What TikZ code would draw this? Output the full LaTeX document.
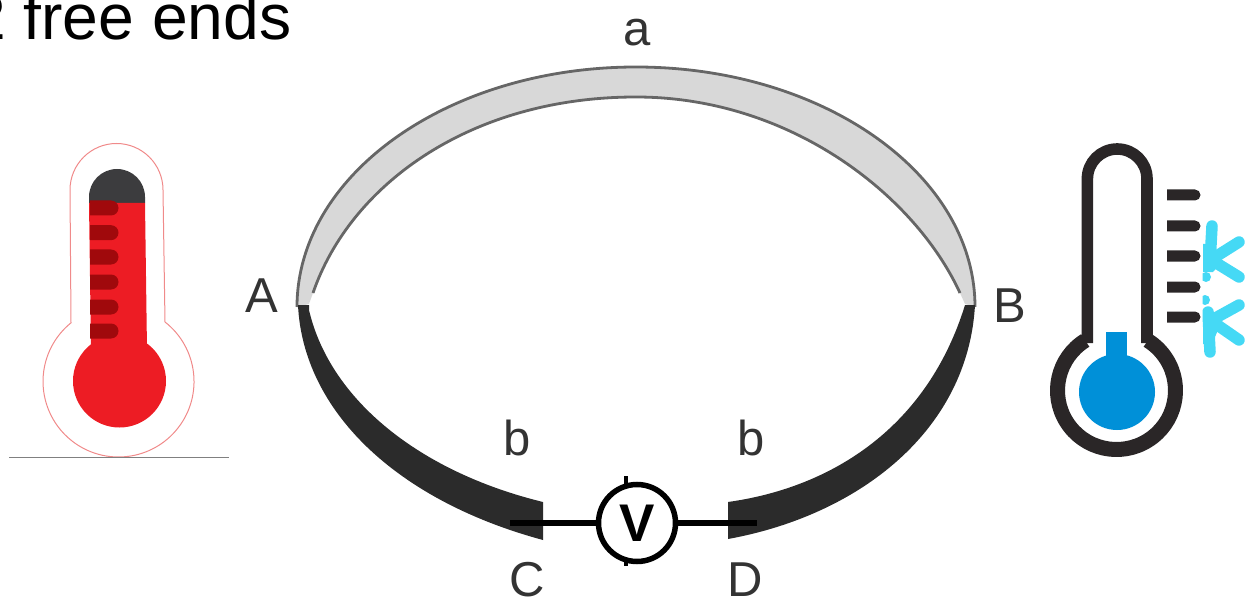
\documentclass[tikz,border=0pt]{standalone}
\usepackage{fontspec}
\setmainfont{Liberation Sans}
\definecolor{archdark}{HTML}{2B2B2B}
\definecolor{archgrey}{HTML}{D8D8D8}
\definecolor{archedge}{HTML}{666666}
\definecolor{labelgrey}{HTML}{333333}
\definecolor{thermred}{HTML}{ED1C24}
\definecolor{thermtick}{HTML}{A0090C}
\definecolor{thermcap}{HTML}{3C3C3E}
\definecolor{thermline}{HTML}{F08A8A}
\definecolor{coldblack}{HTML}{2A2627}
\definecolor{coldblue}{HTML}{0090D8}
\definecolor{flake}{HTML}{45D9F5}
\tikzset{
  lbl/.style={text=labelgrey,font=\fontsize{49}{49}\selectfont,inner sep=0pt,anchor=base},
  wire/.style={draw=black,line width=5.5pt},
  flakearm/.style={draw=flake,line width=11.5pt,line cap=round},
  archline/.style={draw=archedge,line width=2.8pt},
}
\begin{document}
\begin{tikzpicture}[x=1pt,y=1pt,yscale=-1]
\useasboundingbox (0,0) rectangle (1245,604);
\clip (0,0) rectangle (1245,604);
% heading
\node[anchor=base west,inner sep=0pt,font=\fontsize{64.2}{64.2}\selectfont,text=black] (title) at (-30,40) {2 free ends};
% upper arc a
\fill[archgrey] (297,307) arc[start angle=180,end angle=360,x radius=339pt,y radius=240pt]
  -- (965,304) -- (960,293) .. controls (915,195) and (790,97) .. (636,97)
  .. controls (470,97) and (350,185) .. (313,293) -- (309,304) -- cycle;
\draw[archline] (297,307) arc[start angle=180,end angle=360,x radius=339pt,y radius=240pt];
\draw[archline] (960,293) .. controls (915,195) and (790,97) .. (636,97)
  .. controls (470,97) and (350,185) .. (313,293);
% lower arcs b
\fill[archdark] (298,305) .. controls (303,410) and (395,500) .. (543,540)
  -- (543,502) .. controls (420,472) and (330,400) .. (309,310) -- (309,305) -- cycle;
\fill[archdark] (728,539) .. controls (860,515) and (968,430) .. (975,305)
  -- (965,305) .. controls (928,425) and (835,487) .. (728,502) -- cycle;
% labels
\node[lbl] (la) at (637,46) {a};
\node[lbl] (lA) at (262,312) {A};
\node[lbl] (lB) at (1010,322) {B};
\node[lbl] (lb1) at (517,455) {b};
\node[lbl] (lb2) at (751,455) {b};
\node[lbl] (lC) at (527,596) {C};
\node[lbl] (lD) at (745,596) {D};
% voltmeter
\coordinate (wl) at (510,523);
\coordinate (wr) at (757,523);
\coordinate (tt) at (626,476);
\coordinate (tb) at (626,566);
\draw[wire,line width=4.5pt] (tt) -- (tb);
\node[circle,draw=black,fill=white,line width=5.5pt,minimum size=77pt,inner sep=0pt,font=\fontsize{53}{53}\selectfont\bfseries] (volt) at (637,523) {V};
\draw[wire] (wl) -- (volt);
\draw[wire] (volt) -- (wr);
% hot thermometer
\draw[thermline,line width=1pt] (70,190) arc[start angle=180,end angle=360,radius=46.5pt]
  -- (165,322) arc[start angle=-52,end angle=231,radius=75.5pt] -- cycle;
\draw[gray,line width=1pt] (9,457) -- (229,457);
\fill[thermcap] (89,203) -- (89,197) arc[start angle=180,end angle=360,radius=28pt] -- (145,203) -- cycle;
\fill[thermred] (89,203) -- (145,203) -- (147,350) -- (91,350) -- cycle;
\fill[thermred] (119.5,381) circle[radius=46.5pt];
\foreach \yy in {208,232.7,257,282,307,331}{
  \fill[thermtick] (90,\yy-7.5) -- (111,\yy-7.5) arc[start angle=-90,end angle=90,radius=7.5pt] -- (90,\yy+7.5) -- cycle;
}
% cold thermometer
\draw[coldblack,line width=11.6pt] (1087.4,343) -- (1087.4,178.8) arc[start angle=180,end angle=360,radius=29.8pt] -- (1147,343);
\draw[coldblack,line width=15pt] (1116.5,390.5) ++(238:59pt) arc[start angle=238,end angle=-58,radius=59pt];
\fill[coldblue] (1117,392) circle[radius=38pt];
\fill[coldblue] (1106,332) rectangle (1127,370);
\foreach \yy in {195,226,256,287,317}{
  \fill[coldblack] (1167,\yy-5.5) -- (1195,\yy-5.5) arc[start angle=-90,end angle=90,radius=5.5pt] -- (1167,\yy+5.5) -- cycle;
}
% snowflakes
\begin{scope}
\clip (1202.5,200) rectangle (1245,370);
\fill[flake] (1203,244) -- (1212,244) -- (1222,262) -- (1213,272) -- (1203,272) -- cycle;
\fill[flake] (1203,318) -- (1218,318) -- (1218,330) -- (1212,344) -- (1203,344) -- cycle;
\draw[flakearm] (1212,226) -- (1210,263);
\draw[flakearm] (1239,242) -- (1212,259);
\draw[flakearm] (1239,277) -- (1213,261);
\fill[flake] (1206,277) circle[radius=5pt];
\draw[flakearm] (1210,352) -- (1208,312);
\draw[flakearm] (1239,305) -- (1210,321);
\draw[flakearm] (1239,340) -- (1213,322);
\fill[flake] (1205,300) circle[radius=5pt];
\end{scope}
\end{tikzpicture}
\end{document}
